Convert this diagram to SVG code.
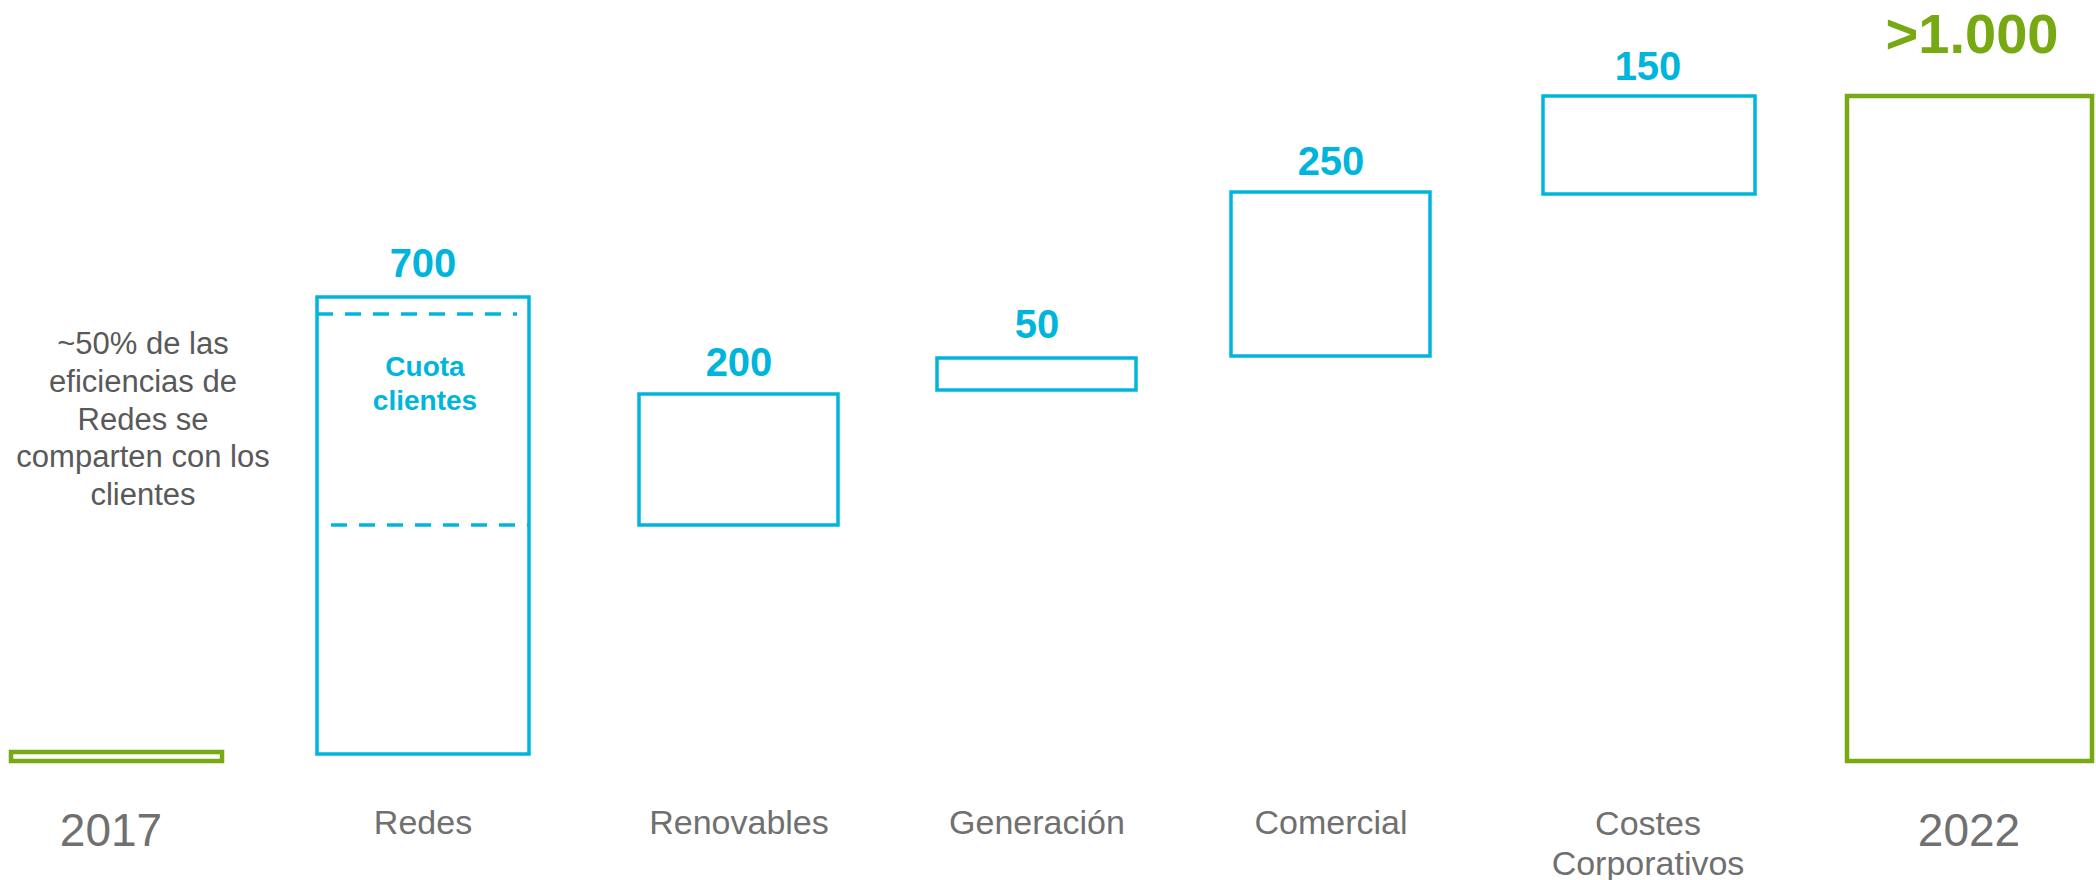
<svg xmlns="http://www.w3.org/2000/svg" width="2096" height="880" viewBox="0 0 2096 880">
<style>
.bar{fill:none;stroke:#00B5DC;stroke-width:3.5}
.tot{fill:none;stroke:#76A912;stroke-width:4.5}
.dash{stroke:#00B5DC;stroke-width:3.5;stroke-dasharray:16 12;fill:none}
.val{font-family:"Liberation Sans",Arial,sans-serif;font-weight:bold;font-size:40px;fill:#00B5DC;text-anchor:middle}
.big{font-family:"Liberation Sans",Arial,sans-serif;font-weight:bold;font-size:56px;fill:#76A912;text-anchor:middle}
.cat{font-family:"Liberation Sans",Arial,sans-serif;font-size:34px;fill:#707070;text-anchor:middle}
.yr{font-family:"Liberation Sans",Arial,sans-serif;font-size:46px;fill:#707070;text-anchor:middle}
.note{font-family:"Liberation Sans",Arial,sans-serif;font-size:31px;fill:#595959;text-anchor:middle}
.cuota{font-family:"Liberation Sans",Arial,sans-serif;font-weight:bold;font-size:28px;fill:#00B5DC;text-anchor:middle}
</style>
<rect width="2096" height="880" fill="#ffffff"/>
<g id="bar-2017">
<rect class="tot" x="11" y="752" width="211" height="9"/>
<text class="yr" x="111" y="846">2017</text>
</g>
<g id="bar-redes">
<rect class="bar" x="317" y="297" width="212" height="457"/>
<line class="dash" x1="317" y1="314" x2="517" y2="314"/>
<line class="dash" x1="331" y1="525" x2="529" y2="525"/>
<text class="val" x="423" y="277">700</text>
<text class="cuota" x="425" y="376">Cuota</text>
<text class="cuota" x="425" y="410">clientes</text>
<text class="cat" x="423" y="834">Redes</text>
</g>
<g id="note">
<text class="note" x="143" y="354">~50% de las</text>
<text class="note" x="143" y="392">eficiencias de</text>
<text class="note" x="143" y="430">Redes se</text>
<text class="note" x="143" y="467">comparten con los</text>
<text class="note" x="143" y="505">clientes</text>
</g>
<g id="bar-renovables">
<rect class="bar" x="639" y="394" width="199" height="131"/>
<text class="val" x="739" y="376">200</text>
<text class="cat" x="739" y="834">Renovables</text>
</g>
<g id="bar-generacion">
<rect class="bar" x="937" y="358" width="199" height="32"/>
<text class="val" x="1037" y="338">50</text>
<text class="cat" x="1037" y="834">Generación</text>
</g>
<g id="bar-comercial">
<rect class="bar" x="1231" y="192" width="199" height="164"/>
<text class="val" x="1331" y="175">250</text>
<text class="cat" x="1331" y="834">Comercial</text>
</g>
<g id="bar-costes">
<rect class="bar" x="1543" y="96" width="212" height="98"/>
<text class="val" x="1648" y="80">150</text>
<text class="cat" x="1648" y="835">Costes</text>
<text class="cat" x="1648" y="875">Corporativos</text>
</g>
<g id="bar-2022">
<rect class="tot" x="1847" y="96" width="245" height="665"/>
<text class="big" x="1972" y="53">&gt;1.000</text>
<text class="yr" x="1969" y="846">2022</text>
</g>
<g id="connectors"></g>
</svg>
